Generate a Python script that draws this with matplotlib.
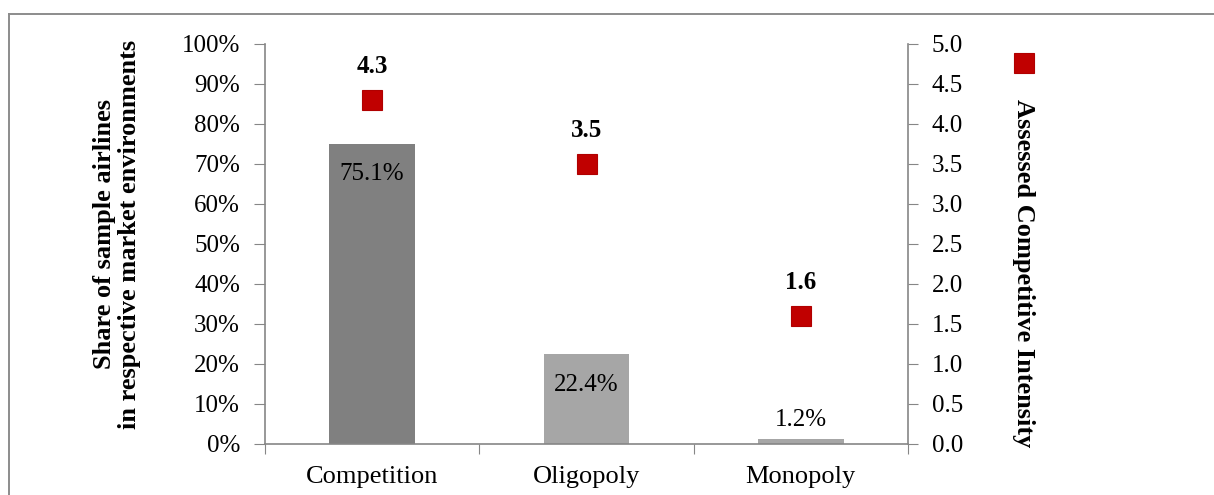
import matplotlib
matplotlib.use("Agg")
import matplotlib.pyplot as plt
from matplotlib.lines import Line2D

categories = ["Competition", "Oligopoly", "Monopoly"]
shares = [75.1, 22.4, 1.2]
intensity = [4.3, 3.5, 1.6]
share_labels = ["75.1%", "22.4%", "1.2%"]
intensity_labels = ["4.3", "3.5", "1.6"]
left_ticks = [0, 10, 20, 30, 40, 50, 60, 70, 80, 90, 100]
right_ticks = [0.0, 0.5, 1.0, 1.5, 2.0, 2.5, 3.0, 3.5, 4.0, 4.5, 5.0]
bar_colors = ["#808080", "#A6A6A6", "#A6A6A6"]

plt.rcParams['font.family'] = ['Liberation Serif', 'DejaVu Serif']
FS = 18
FSL = 19

W, H = 1214, 495
fig = plt.figure(figsize=(W / 100, H / 100), dpi=100)
ax = fig.add_axes([265 / W, 1 - 444 / H, (908 - 265) / W, (444 - 44) / H])
ax2 = ax.twinx()

spine_c = "#868686"
xs = [i + 0.5 for i in range(len(categories))]
ax.bar(xs, shares, width=0.4, color=bar_colors, zorder=2)
ax.set_xlim(0, len(categories))
ax.set_ylim(0, 100)
ax.set_yticks(left_ticks)
ax.set_yticklabels([f"{t}%" for t in left_ticks])
ax.set_xticks(range(len(categories) + 1))
ax.set_xticklabels([""] * (len(categories) + 1))
ax.set_xticks(xs, minor=True)
ax.set_xticklabels(categories, minor=True)
ax.tick_params(axis='x', which='major', length=7, color=spine_c, direction='out')
ax.tick_params(axis='x', which='minor', length=0, pad=16, labelsize=FSL)
ax.tick_params(axis='y', length=8, color=spine_c, direction='out', pad=10, labelsize=FS)

for s in ['top', 'right']:
    ax.spines[s].set_visible(False)
for s in ['left', 'bottom']:
    ax.spines[s].set_color(spine_c)
    ax.spines[s].set_linewidth(1.2)

# bar value labels
offsets = [-22, -22, 14]
for x, v, lab, off in zip(xs, shares, share_labels, offsets):
    ax.annotate(lab, (x, v), xytext=(0, off), textcoords='offset points',
                ha='center', va='center', fontsize=FS, color='black', zorder=3)

ax2.plot(xs, intensity, linestyle='none', marker='s', markersize=14,
         markerfacecolor='#C00000', markeredgecolor='#B00000', markeredgewidth=0.8, zorder=4)
ax2.set_ylim(0, 5)
ax2.set_yticks(right_ticks)
ax2.set_yticklabels([f"{t:.1f}" for t in right_ticks])
ax2.tick_params(axis='y', length=7, color=spine_c, direction='out', pad=10, labelsize=FS)
for s in ['top', 'left', 'bottom']:
    ax2.spines[s].set_visible(False)
ax2.spines['right'].set_color(spine_c)
ax2.spines['right'].set_linewidth(1.2)

for x, v, lab in zip(xs, intensity, intensity_labels):
    ax2.annotate(lab, (x, v), xytext=(0, 24), textcoords='offset points',
                 ha='center', va='center', fontsize=FS, fontweight='bold')

# left y label
fig.text(117 / W, 1 - 234 / H,
         "Share of sample airlines\nin respective market environments",
         rotation=90, ha='center', va='center', fontsize=FSL, fontweight='bold',
         linespacing=1.15)

# legend-like marker and rotated label
fig.add_artist(Line2D([1024 / W], [1 - 63 / H], marker='s', markersize=14,
                      markerfacecolor='#C00000', markeredgecolor='#B00000',
                      markeredgewidth=0.8, linestyle='none', transform=fig.transFigure))
fig.text(1024 / W, 1 - 273 / H, "Assessed Competitive Intensity", rotation=-90,
         ha='center', va='center', fontsize=FSL, fontweight='bold')

# outer frame (top and left edges visible)
frame_c = '#8C8C8C'
fig.add_artist(Line2D([9 / W, 1.0], [1 - 14 / H, 1 - 14 / H], color=frame_c,
                      linewidth=1.4, transform=fig.transFigure))
fig.add_artist(Line2D([9 / W, 9 / W], [0.0, 1 - 14 / H], color=frame_c,
                      linewidth=1.4, transform=fig.transFigure))

fig.savefig("out.png", dpi=100)
